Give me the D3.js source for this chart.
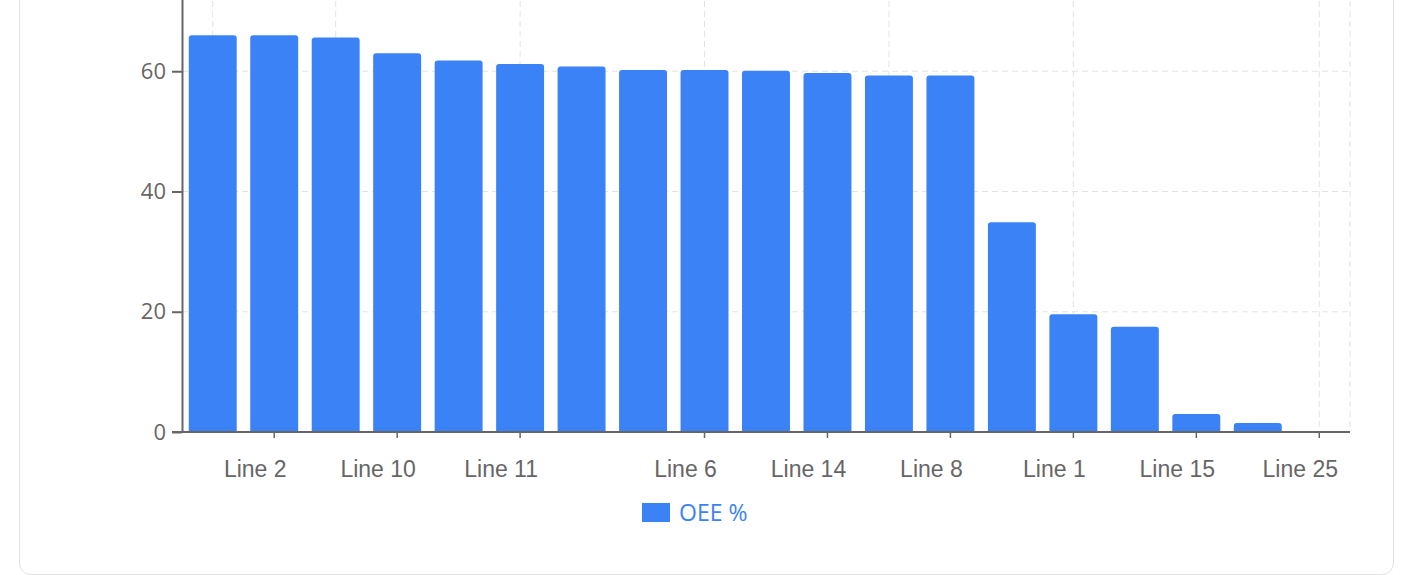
<!DOCTYPE html>
<html><head><meta charset="utf-8">
<script src="https://cdn.jsdelivr.net/npm/d3@7"></script>
<style>
body{margin:0;background:#fff;font-family:"Open Sans",sans-serif;overflow:hidden}
.card{position:absolute;left:19px;top:-30px;width:1373px;height:603px;border:1.5px solid #e2e2e2;border-radius:12px}
svg{position:absolute;left:0;top:0}
</style></head><body>
<div class="card"></div>
<div id="chart"></div>
<script>
const lines = ["Line 3","Line 2","Line 4","Line 10","Line 5","Line 11","Line 7","Line 9","Line 6","Line 12","Line 14","Line 13","Line 8","Line 16","Line 1","Line 17","Line 15","Line 18","Line 25"]
const oee = [66.0,66.0,65.6,63.0,61.8,61.2,60.8,60.2,60.2,60.1,59.7,59.3,59.3,34.9,19.6,17.5,3.0,1.5,0]
const shownTicks = ["Line 2","Line 10","Line 11","Line 6","Line 14","Line 8","Line 1","Line 15","Line 25"]
const gridCats = ["Line 3","Line 4","Line 11","Line 6","Line 13","Line 1","Line 25"]
const yTicks = [0,20,40,60]

const svg = d3.select("#chart").append("svg").attr("width",1410).attr("height",575)
const x = d3.scaleBand().domain(lines).range([182,1350]).paddingInner(0.22).paddingOuter(0.11)
const y = d3.scaleLinear().domain([0,80]).range([432,-49])
const blue = "#3b82f6"

// grid
svg.append("g").selectAll("line").data(yTicks.filter(d=>d>0)).join("line")
  .attr("x1",172).attr("x2",1350).attr("y1",d=>y(d)).attr("y2",d=>y(d))
  .attr("stroke","#e3e3e3").attr("stroke-dasharray","6,4")
svg.append("g").selectAll("line").data(gridCats).join("line")
  .attr("x1",d=>x(d)+x.bandwidth()/2).attr("x2",d=>x(d)+x.bandwidth()/2)
  .attr("y1",-49).attr("y2",432)
  .attr("stroke","#e3e3e3").attr("stroke-dasharray","6,4")
svg.append("line").attr("x1",1350).attr("x2",1350).attr("y1",-49).attr("y2",432)
  .attr("stroke","#e3e3e3").attr("stroke-dasharray","6,4")

// bars
svg.append("g").selectAll("path").data(lines).join("path")
  .attr("fill",blue)
  .attr("d",(d,i)=>{
    const x0=x(d), w=x.bandwidth(), y0=y(oee[i]), h=432-y0
    if(h<=0) return ""
    const r=Math.min(3,h)
    return `M${x0},432V${y0+r}Q${x0},${y0} ${x0+r},${y0}H${x0+w-r}Q${x0+w},${y0} ${x0+w},${y0+r}V432Z`
  })

// y axis
const ya = svg.append("g").attr("transform","translate(182,0)")
  .call(d3.axisLeft(y).tickValues(yTicks).tickSize(10).tickPadding(6).tickSizeOuter(0))
ya.select(".domain").attr("stroke","#666").attr("stroke-width",2)
ya.selectAll("line").attr("stroke","#666").attr("stroke-width",2)
ya.selectAll("text").attr("font-size",22).attr("fill","#666").attr("font-family","Open Sans")

// x axis
const xa = svg.append("g").attr("transform","translate(0,432)")
  .call(d3.axisBottom(x).tickValues(shownTicks).tickSize(6).tickPadding(16).tickSizeOuter(0))
xa.select(".domain").attr("stroke","#666").attr("stroke-width",2).attr("d","M172,0H1350")
xa.selectAll("line").attr("stroke","#666").attr("stroke-width",1.5)
xa.selectAll("text").attr("font-size",23).attr("fill","#666").attr("font-family","Liberation Sans")
  .attr("dx",-19).attr("dy","1.0em")

// legend
const lg = svg.append("g").attr("transform","translate(642,503)")
lg.append("rect").attr("width",28).attr("height",19).attr("fill",blue)
lg.append("text").attr("x",37).attr("y",18).attr("font-size",23).attr("fill",blue)
  .attr("font-family","Open Sans").text("OEE %")
</script></body></html>
